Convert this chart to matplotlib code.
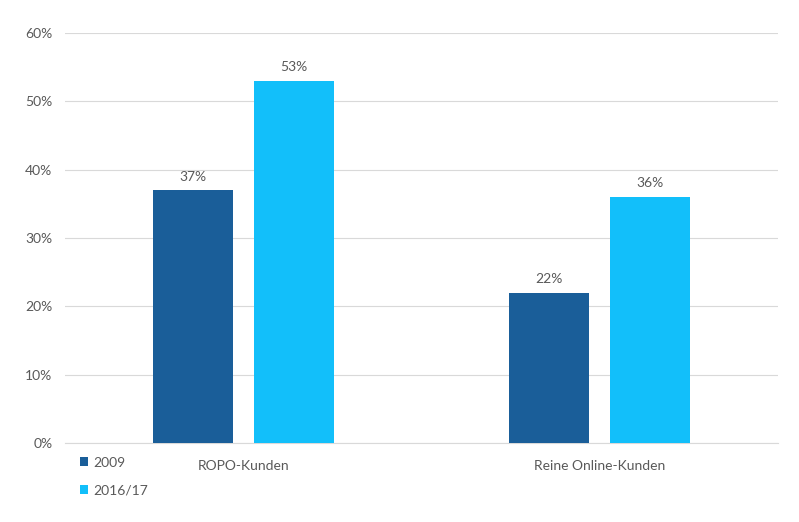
import matplotlib
matplotlib.use("Agg")
import matplotlib.pyplot as plt
import numpy as np

categories = ["ROPO-Kunden", "Reine Online-Kunden"]
series_names = ["2009", "2016/17"]
values_2009 = [37, 22]
values_2016 = [53, 36]
y_ticks = [0, 10, 20, 30, 40, 50, 60]

colors = ["#1A5E99", "#12BFFA"]
text_color = "#595959"

plt.rcParams['font.family'] = ['Lato', 'DejaVu Sans']

W, H = 799, 522
fig = plt.figure(figsize=(W / 100, H / 100), dpi=100)
ax = fig.add_axes([65 / W, 1 - 443 / H, (778 - 65) / W, (443 - 33) / H])

x = np.arange(len(categories))
width = 0.225
off = 0.142
series = [values_2009, values_2016]
bars_all = []
for i, (vals, name) in enumerate(zip(series, series_names)):
    pos = x + (-off if i == 0 else off)
    bars = ax.bar(pos, vals, width, color=colors[i], label=name, zorder=3)
    bars_all.append(bars)
    for b, v in zip(bars, vals):
        ax.text(b.get_x() + b.get_width() / 2, v + 1.1, f"{v}%", ha="center", va="bottom",
                fontsize=10, color=text_color)

ax.set_xlim(-0.5, 1.5)
ax.set_ylim(0, 60)
ax.set_yticks(y_ticks)
ax.set_yticklabels([f"{t}%" for t in y_ticks], fontsize=10, color=text_color)
ax.set_xticks(x)
ax.set_xticklabels(categories, fontsize=10, color=text_color)
ax.tick_params(axis="both", length=0)
ax.tick_params(axis="y", pad=9)
ax.tick_params(axis="x", pad=12)
ax.grid(axis="y", color="#D9D9D9", linewidth=0.8, zorder=0)
for s in ["top", "right", "left"]:
    ax.spines[s].set_visible(False)
ax.spines["bottom"].set_color("#D9D9D9")
ax.spines["bottom"].set_linewidth(0.8)

leg = fig.legend(handles=bars_all, labels=series_names, loc="upper left",
                 bbox_to_anchor=(77 / W, 1 - 454 / H), frameon=False, fontsize=10,
                 handlelength=0.6, handleheight=0.6, handletextpad=0.4, labelspacing=1.1,
                 borderaxespad=0, borderpad=0.2)
for t in leg.get_texts():
    t.set_color(text_color)

fig.savefig("out.png", dpi=100, facecolor="white")
